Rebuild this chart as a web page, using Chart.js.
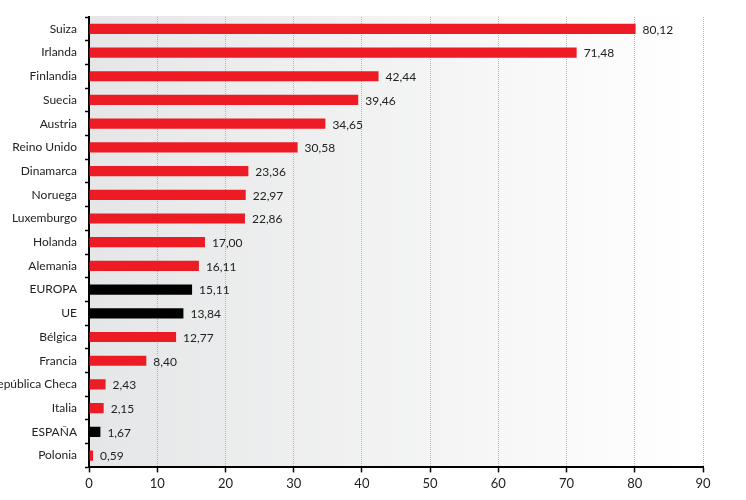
<!DOCTYPE html>
<html>
<head>
<meta charset="utf-8">
<script src="https://cdn.jsdelivr.net/npm/chart.js@4"></script>
<style>
  html, body { margin: 0; padding: 0; background: #fff; }
  #wrap { width: 746px; height: 500px; }
</style>
</head>
<body>
<div id="wrap"><canvas id="grafico"></canvas></div>
<script>
// datos
const paises = ['Suiza', 'Irlanda', 'Finlandia', 'Suecia', 'Austria', 'Reino Unido', 'Dinamarca', 'Noruega',
  'Luxemburgo', 'Holanda', 'Alemania', 'EUROPA', 'UE', 'Bélgica', 'Francia', 'República Checa', 'Italia',
  'ESPAÑA', 'Polonia'];
const valores = [80.12, 71.48, 42.44, 39.46, 34.65, 30.58, 23.36, 22.97, 22.86, 17.00, 16.11, 15.11, 13.84,
  12.77, 8.40, 2.43, 2.15, 1.67, 0.59];
const destacados = ['EUROPA', 'UE', 'ESPAÑA'];

const rojo = '#ed1c24';
const negro = '#000000';
const colores = paises.map((p) => destacados.includes(p) ? negro : rojo);

// fondo degradado del area del grafico
const fondoPlugin = {
  id: 'fondo',
  beforeDraw: (chart) => {
    const { ctx, chartArea } = chart;
    const g = ctx.createLinearGradient(chartArea.left, 0, chartArea.right - 12, 0);
    g.addColorStop(0, '#e5e6e7');
    g.addColorStop(1, '#ffffff');
    ctx.save();
    ctx.fillStyle = g;
    ctx.fillRect(chartArea.left, chartArea.top - 1, chartArea.right - chartArea.left, chartArea.bottom - chartArea.top + 1);
    ctx.restore();
  }
};

// etiquetas de valor al final de cada barra
const etiquetasPlugin = {
  id: 'etiquetas',
  afterDatasetsDraw: (chart) => {
    const { ctx } = chart;
    const meta = chart.getDatasetMeta(0);
    ctx.save();
    ctx.font = '12px Lato';
    ctx.fillStyle = '#222';
    ctx.textBaseline = 'middle';
    meta.data.forEach((bar, i) => {
      const txt = valores[i].toFixed(2).replace('.', ',');
      ctx.fillText(txt, bar.x + 7, bar.y + 1);
    });
    ctx.restore();
  }
};

const config = {
  type: 'bar',
  data: {
    labels: paises,
    datasets: [{
      data: valores,
      backgroundColor: colores,
      barPercentage: 0.43,
      categoryPercentage: 1
    }]
  },
  options: {
    indexAxis: 'y',
    responsive: true,
    maintainAspectRatio: false,
    animation: false,
    layout: { padding: { top: 17, right: 43, bottom: 4, left: 0 } },
    plugins: {
      legend: { display: false },
      tooltip: { enabled: false }
    },
    scales: {
      x: {
        min: 0,
        max: 90,
        ticks: { stepSize: 10, color: '#222', font: { family: 'Lato', size: 13 }, padding: 4 },
        // en v4 border.dash tambien punte a las lineas de la grilla
        border: { display: true, color: '#000', width: 2, dash: [1, 1] },
        grid: {
          color: (c) => c.tick && c.tick.value === 0 ? 'rgba(0,0,0,0)' : '#b4b4b4',
          lineWidth: 1,
          drawTicks: true,
          tickLength: 5,
          tickColor: '#000',
          tickWidth: 1.5
        }
      },
      y: {
        // ancho fijo: el texto largo se sale por la izquierda como en el original
        afterFit: (scale) => { scale.width = 89; },
        ticks: { color: '#222', font: { family: 'Lato', size: 12 }, padding: 8 },
        border: { display: true, color: '#000', width: 2 },
        grid: {
          offset: true,
          drawOnChartArea: false,
          drawTicks: true,
          tickLength: 4,
          tickColor: '#000',
          tickWidth: 1.5
        }
      }
    }
  },
  plugins: [fondoPlugin, etiquetasPlugin]
};

const grafico = new Chart(document.getElementById('grafico'), config);
</script>
</body>
</html>
